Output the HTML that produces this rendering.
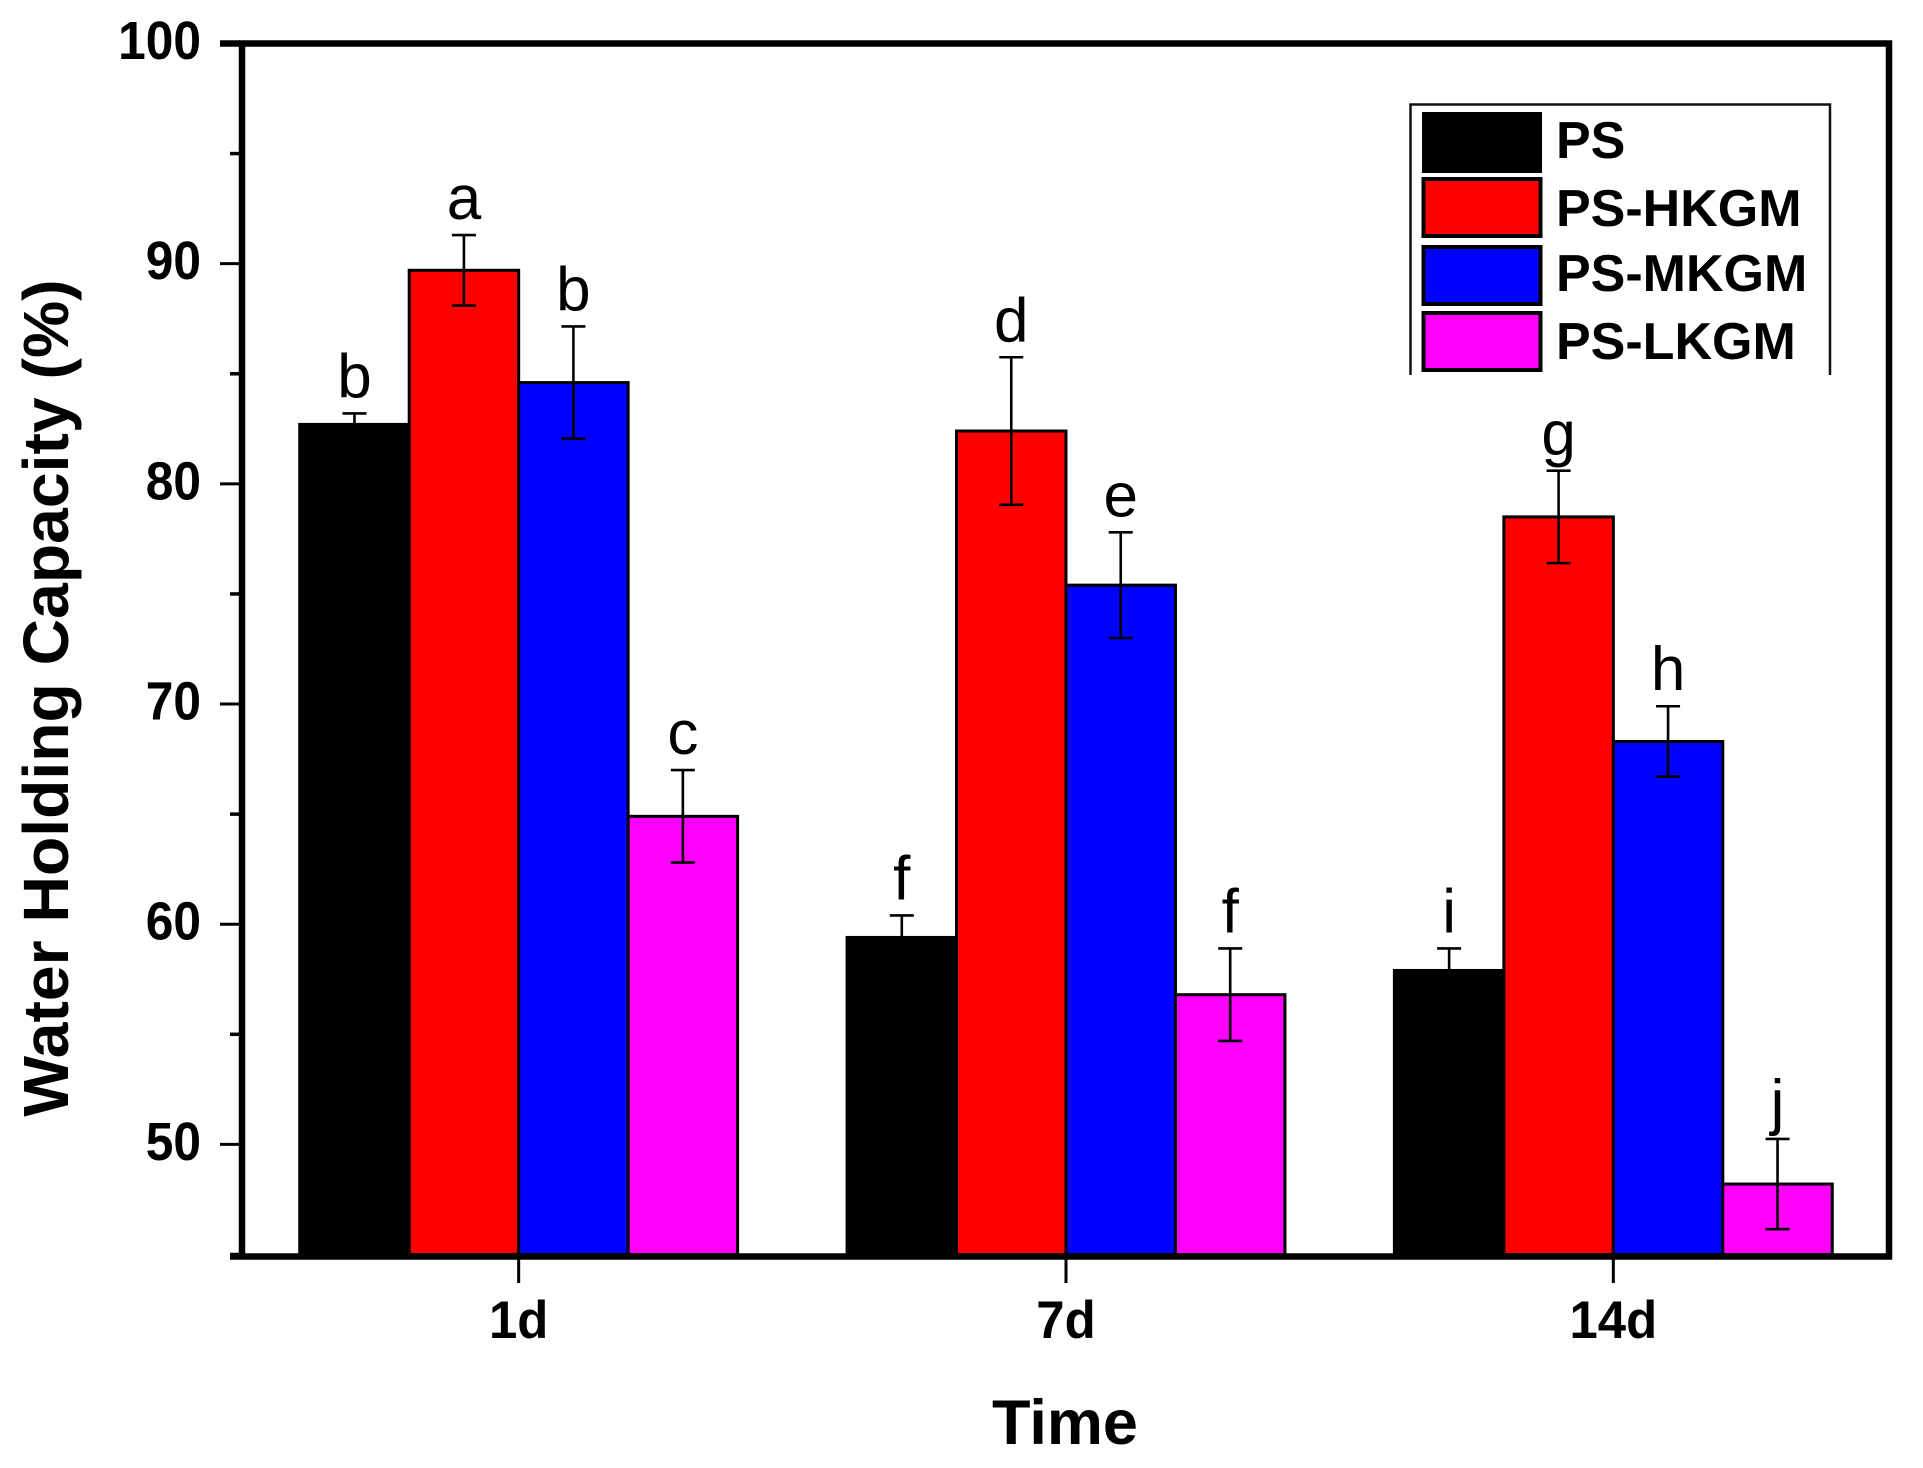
<!DOCTYPE html>
<html lang="en">
<head>
<meta charset="utf-8">
<title>Water Holding Capacity</title>
<style>
html,body{margin:0;padding:0;background:#fefefe;}
svg{display:block;}
text{font-family:"Liberation Sans",Arial,sans-serif;fill:#000;}
.bold{font-weight:700;}
</style>
</head>
<body>
<svg id="chart" xmlns="http://www.w3.org/2000/svg" width="1923" height="1468" viewBox="0 0 1923 1468">
  <rect x="0" y="0" width="1923" height="1468" fill="#fefefe"/>
  <rect x="242" y="43" width="1647" height="1212" fill="#fff"/>
  <g id="bars"></g>
  <g id="axes"></g>
  <text class="bold" font-size="64.3" text-anchor="middle" transform="translate(68 698) rotate(-90)">Water Holding Capacity (%)</text>
  <text class="bold" font-size="63" text-anchor="middle" x="1065" y="1444">Time</text>
  <g>
    <path d="M1410.5 375V104.5H1830V375" fill="#fff" stroke="#111" stroke-width="2.5"/>
    <g>
      <rect x="1423" y="113" width="118" height="59" fill="#000" stroke="#000" stroke-width="2"/>
      <text class="bold" font-size="52" x="1556" y="158">PS</text>
    </g>
    <g>
      <rect x="1423.5" y="179" width="117" height="57" fill="#f00" stroke="#000" stroke-width="4"/>
      <text class="bold" font-size="52" x="1556" y="226">PS-HKGM</text>
    </g>
    <g>
      <rect x="1423.5" y="247" width="117" height="57" fill="#00f" stroke="#000" stroke-width="4"/>
      <text class="bold" font-size="52" x="1556" y="291">PS-MKGM</text>
    </g>
    <g>
      <rect x="1423.5" y="313" width="117" height="57" fill="#f0f" stroke="#000" stroke-width="4"/>
      <text class="bold" font-size="52" x="1556" y="359">PS-LKGM</text>
    </g>
  </g>
</svg>
<script>
const categories = ["1d", "7d", "14d"];
const seriesNames = ["PS", "PS-HKGM", "PS-MKGM", "PS-LKGM"];
const valuesPS = [82.7, 59.4, 57.9];
const valuesHKGM = [89.7, 82.4, 78.5];
const valuesMKGM = [84.6, 75.4, 68.3];
const valuesLKGM = [64.9, 56.8, 48.2];
const errorsPS = [0.5, 1.0, 1.0];
const errorsHKGM = [1.6, 3.35, 2.1];
const errorsMKGM = [2.55, 2.4, 1.6];
const errorsLKGM = [2.1, 2.1, 2.05];
const lettersPS = ["b", "f", "i"];
const lettersHKGM = ["a", "d", "g"];
const lettersMKGM = ["b", "e", "h"];
const lettersLKGM = ["c", "f", "j"];
const yTickLabels = [50, 60, 70, 80, 90, 100];
const yMinorTicks = [45, 55, 65, 75, 85, 95];
const yDomain = [45, 100];

const NS = "http://www.w3.org/2000/svg";
const plotTop = 43.5;
const plotBottom = 1254.5;
const plotLeft = 245;
const plotRight = 1887;
const fills = ["#000", "#f00", "#00f", "#f0f"];
const allValues = [valuesPS, valuesHKGM, valuesMKGM, valuesLKGM];
const allErrors = [errorsPS, errorsHKGM, errorsMKGM, errorsLKGM];
const allLetters = [lettersPS, lettersHKGM, lettersMKGM, lettersLKGM];

function yScale(v) {
  return plotBottom - (v - yDomain[0]) / (yDomain[1] - yDomain[0]) * (plotBottom - plotTop);
}
function xBand() {
  return (plotRight - plotLeft) / categories.length;
}
function xCenter(i) {
  return plotLeft + xBand() * (i + 0.5);
}
function make(tag, attrs, parent) {
  const el = document.createElementNS(NS, tag);
  for (const k in attrs) el.setAttribute(k, attrs[k]);
  parent.appendChild(el);
  return el;
}
function slug(s) {
  return s.toLowerCase();
}
function squeeze(textEl, factor) {
  const w = textEl.getComputedTextLength();
  textEl.setAttribute("textLength", w * factor);
  textEl.setAttribute("lengthAdjust", "spacingAndGlyphs");
}

const barsG = document.getElementById("bars");
const axesG = document.getElementById("axes");
const barW = xBand() * 0.2;

allValues.forEach(function (vals, s) {
  vals.forEach(function (v, c) {
    const x = xCenter(c) + (s - 2) * barW;
    const top = yScale(v);
    const bar = make("rect", {x: x, y: top, width: barW, height: plotBottom - top, fill: fills[s], stroke: "#000", "stroke-width": 3}, barsG);
    
    
  });
});

allValues.forEach(function (vals, s) {
  vals.forEach(function (v, c) {
    const cx = xCenter(c) + (s - 1.5) * barW;
    const e = allErrors[s][c];
    const yUp = yScale(v + e);
    const yLo = yScale(v - e);
    const err = make("path", {d: "M" + cx + " " + yLo + "V" + yUp + "M" + (cx - 12) + " " + yUp + "H" + (cx + 12) + "M" + (cx - 12) + " " + yLo + "H" + (cx + 12), fill: "none", stroke: "#000", "stroke-width": 2.6}, barsG);
    
    
    const letter = make("text", {x: cx, y: yUp - 16, "font-size": 62, "text-anchor": "middle"}, barsG);
    letter.textContent = allLetters[s][c];
    
    
  });
});

const frame = make("path", {d: "M239 43.5H1889V1256.5H230M242 43.5V1256.5", fill: "none", stroke: "#000", "stroke-width": 6.5}, axesG);



yTickLabels.forEach(function (t) {
  const y = yScale(t);
  const tick = make("line", {x1: 220, x2: 240, y1: y, y2: y, stroke: "#000", "stroke-width": t === 100 ? 6.5 : 3}, axesG);
  
  
  const label = make("text", {x: 201, y: y + 15.5, "font-size": 54, "font-weight": 700, "text-anchor": "end"}, axesG);
  label.textContent = t;
  squeeze(label, 0.92);
  
  
});

yMinorTicks.forEach(function (t) {
  const y = yScale(t);
  const tick = make("line", {x1: 230, x2: 240, y1: y, y2: y, stroke: "#000", "stroke-width": 3.5}, axesG);
  
  
});

categories.forEach(function (cat, c) {
  const x = xCenter(c);
  const tick = make("line", {x1: x, x2: x, y1: 1259, y2: 1283, stroke: "#000", "stroke-width": 3}, axesG);
  
  
  const label = make("text", {x: x, y: 1338, "font-size": 53, "font-weight": 700, "text-anchor": "middle"}, axesG);
  label.textContent = cat;
  squeeze(label, 0.96);
  
  
});
</script>
</body>
</html>
